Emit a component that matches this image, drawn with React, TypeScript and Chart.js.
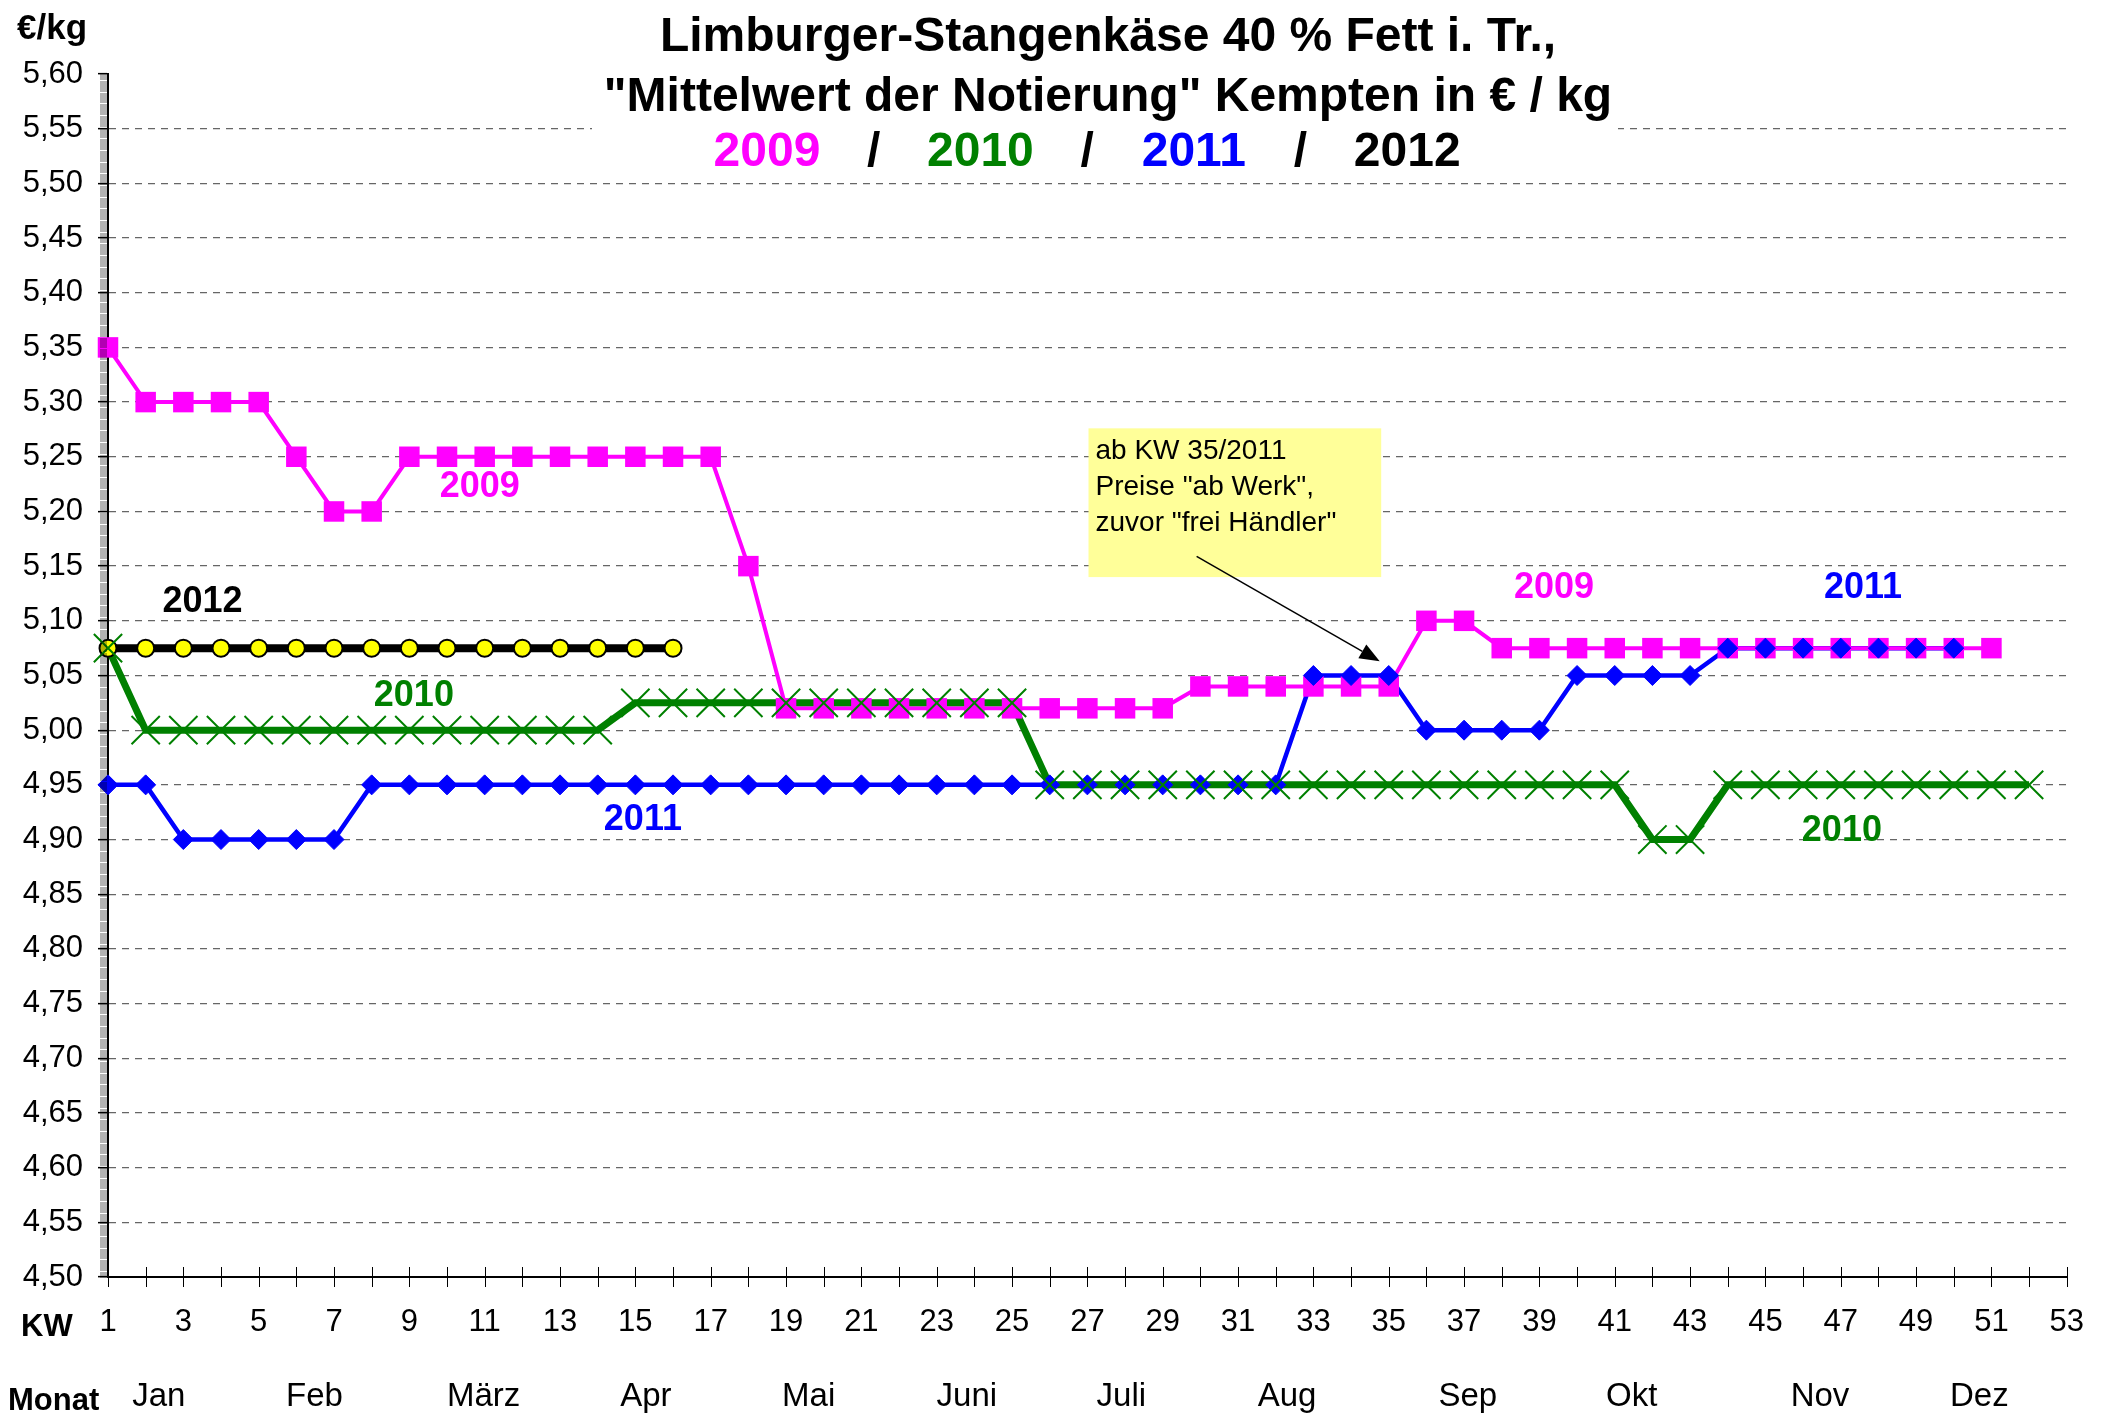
import React, { useEffect, useRef } from 'react';
import { Chart, registerables } from 'chart.js';

Chart.register(...registerables);

// ---------- data ----------
const KW = [
  1, 2, 3, 4, 5, 6, 7, 8, 9, 10, 11, 12, 13, 14, 15, 16, 17, 18, 19, 20, 21, 22, 23, 24, 25, 26,
  27, 28, 29, 30, 31, 32, 33, 34, 35, 36, 37, 38, 39, 40, 41, 42, 43, 44, 45, 46, 47, 48, 49, 50,
  51, 52, 53,
];

const Y_TICKS = [
  4.5, 4.55, 4.6, 4.65, 4.7, 4.75, 4.8, 4.85, 4.9, 4.95, 5.0, 5.05, 5.1, 5.15, 5.2, 5.25, 5.3,
  5.35, 5.4, 5.45, 5.5, 5.55, 5.6,
];

const MONTHS = ['Jan', 'Feb', 'März', 'Apr', 'Mai', 'Juni', 'Juli', 'Aug', 'Sep', 'Okt', 'Nov', 'Dez'];
const MONTH_KW = [2.35, 6.48, 10.97, 15.28, 19.6, 23.8, 27.9, 32.3, 37.1, 41.45, 46.45, 50.68];

// 2009: KW 1..51
const P2009 = [
  5.35, 5.3, 5.3, 5.3, 5.3, 5.25, 5.2, 5.2, 5.25, 5.25, 5.25, 5.25, 5.25, 5.25, 5.25, 5.25, 5.25,
  5.15, 5.02, 5.02, 5.02, 5.02, 5.02, 5.02, 5.02, 5.02, 5.02, 5.02, 5.02, 5.04, 5.04, 5.04, 5.04,
  5.04, 5.04, 5.1, 5.1, 5.075, 5.075, 5.075, 5.075, 5.075, 5.075, 5.075, 5.075, 5.075, 5.075,
  5.075, 5.075, 5.075, 5.075,
];
// 2010: KW 1..52
const P2010 = [
  5.075, 5.0, 5.0, 5.0, 5.0, 5.0, 5.0, 5.0, 5.0, 5.0, 5.0, 5.0, 5.0, 5.0, 5.025, 5.025, 5.025,
  5.025, 5.025, 5.025, 5.025, 5.025, 5.025, 5.025, 5.025, 4.95, 4.95, 4.95, 4.95, 4.95, 4.95, 4.95,
  4.95, 4.95, 4.95, 4.95, 4.95, 4.95, 4.95, 4.95, 4.95, 4.9, 4.9, 4.95, 4.95, 4.95, 4.95, 4.95,
  4.95, 4.95, 4.95, 4.95,
];
// 2011: KW 1..50
const P2011 = [
  4.95, 4.95, 4.9, 4.9, 4.9, 4.9, 4.9, 4.95, 4.95, 4.95, 4.95, 4.95, 4.95, 4.95, 4.95, 4.95, 4.95,
  4.95, 4.95, 4.95, 4.95, 4.95, 4.95, 4.95, 4.95, 4.95, 4.95, 4.95, 4.95, 4.95, 4.95, 4.95, 5.05,
  5.05, 5.05, 5.0, 5.0, 5.0, 5.0, 5.05, 5.05, 5.05, 5.05, 5.075, 5.075, 5.075, 5.075, 5.075, 5.075,
  5.075,
];
// 2012: KW 1..16
const P2012 = [
  5.075, 5.075, 5.075, 5.075, 5.075, 5.075, 5.075, 5.075, 5.075, 5.075, 5.075, 5.075, 5.075, 5.075,
  5.075, 5.075,
];

const SERIES_LABEL_TEXT = ['2009', '2009', '2012', '2010', '2010', '2011', '2011'];
const SERIES_LABEL_KW = [10.87, 39.39, 3.51, 9.12, 47.03, 15.2, 47.59];
const SERIES_LABEL_VAL = [5.222, 5.13, 5.117, 5.031, 4.908, 4.918, 5.13];

const NOTE_LINES = ['ab KW 35/2011', 'Preise "ab Werk",', 'zuvor "frei Händler"'];

const TITLE_1 = 'Limburger-Stangenkäse 40 % Fett i. Tr.,';
const TITLE_2 = '"Mittelwert der Notierung" Kempten in € / kg';
const TITLE_3 = ['2009', '/', '2010', '/', '2011', '/', '2012'];

// ---------- styles ----------
const C2009 = '#FF00FF';
const C2010 = '#008000';
const C2011 = '#0000FF';
const C2012 = '#000000';
const TITLE_3_COLORS = [C2009, '#000', C2010, '#000', C2011, '#000', C2012];
const SERIES_LABEL_COLORS = [C2009, C2009, C2012, C2010, C2010, C2011, C2011];
const FONT = '"Liberation Sans", Arial, Helvetica, sans-serif';

const NOTE_BOX = { kw0: 27.03, kw1: 34.8, v0: 5.276, v1: 5.14 };
const NOTE_ARROW = { kw0: 29.9, v0: 5.159, kw1: 34.76, v1: 5.063 };

const overlayPlugin = {
  id: 'overlay',
  beforeDatasetsDraw(chart: any) {
    const ctx = chart.ctx as CanvasRenderingContext2D;
    ctx.save();
    ctx.fillStyle = '#fff';
    ctx.fillRect(592, 0, 1026, 172);
    ctx.fillStyle = '#000';
    ctx.textAlign = 'center';
    ctx.textBaseline = 'alphabetic';
    ctx.font = `bold 48px ${FONT}`;
    ctx.fillText(TITLE_1, 1108, 51);
    ctx.fillText(TITLE_2, 1108, 111);
    ctx.font = `bold 48px ${FONT}`;
    TITLE_3.forEach((t, i) => {
      ctx.fillStyle = TITLE_3_COLORS[i];
      ctx.fillText(t, 767 + i * 106.7, 166);
    });
    ctx.restore();
  },
  afterDatasetsDraw(chart: any) {
    const ctx = chart.ctx as CanvasRenderingContext2D;
    const xs = chart.scales.x;
    const ys = chart.scales.y;
    ctx.save();
    ctx.font = `bold 36px ${FONT}`;
    ctx.textAlign = 'center';
    ctx.textBaseline = 'middle';
    SERIES_LABEL_TEXT.forEach((t, i) => {
      ctx.fillStyle = SERIES_LABEL_COLORS[i];
      ctx.fillText(t, xs.getPixelForValue(SERIES_LABEL_KW[i]), ys.getPixelForValue(SERIES_LABEL_VAL[i]));
    });
    const bx0 = xs.getPixelForValue(NOTE_BOX.kw0);
    const bx1 = xs.getPixelForValue(NOTE_BOX.kw1);
    const by0 = ys.getPixelForValue(NOTE_BOX.v0);
    const by1 = ys.getPixelForValue(NOTE_BOX.v1);
    ctx.fillStyle = '#FFFF99';
    ctx.fillRect(bx0, by0, bx1 - bx0, by1 - by0);
    ctx.fillStyle = '#000';
    ctx.font = `28px ${FONT}`;
    ctx.textAlign = 'left';
    ctx.textBaseline = 'alphabetic';
    NOTE_LINES.forEach((l, i) => ctx.fillText(l, bx0 + 7, by0 + 31 + i * 36));
    const ax0 = xs.getPixelForValue(NOTE_ARROW.kw0);
    const ay0 = ys.getPixelForValue(NOTE_ARROW.v0);
    const ax1 = xs.getPixelForValue(NOTE_ARROW.kw1);
    const ay1 = ys.getPixelForValue(NOTE_ARROW.v1);
    const ang = Math.atan2(ay1 - ay0, ax1 - ax0);
    const hl = 20;
    const hw = 8;
    ctx.strokeStyle = '#000';
    ctx.lineWidth = 1.5;
    ctx.beginPath();
    ctx.moveTo(ax0, ay0);
    ctx.lineTo(ax1 - Math.cos(ang) * hl, ay1 - Math.sin(ang) * hl);
    ctx.stroke();
    ctx.beginPath();
    ctx.moveTo(ax1, ay1);
    ctx.lineTo(
      ax1 - Math.cos(ang) * hl + Math.sin(ang) * hw,
      ay1 - Math.sin(ang) * hl - Math.cos(ang) * hw
    );
    ctx.lineTo(
      ax1 - Math.cos(ang) * hl - Math.sin(ang) * hw,
      ay1 - Math.sin(ang) * hl + Math.cos(ang) * hw
    );
    ctx.closePath();
    ctx.fill();
    ctx.restore();
  },
  afterDraw(chart: any) {
    const ctx = chart.ctx as CanvasRenderingContext2D;
    const xs = chart.scales.x;
    const ys = chart.scales.y;
    const area = chart.chartArea;
    ctx.save();
    // minor y ticks
    ctx.strokeStyle = 'rgba(0,0,0,0.3)';
    ctx.lineWidth = 1;
    ctx.beginPath();
    for (let k = 0; k <= 1100; k++) {
      const py = Math.round(ys.getPixelForValue(4.5 + k * 0.001)) + 0.5;
      ctx.moveTo(area.left - 8, py);
      ctx.lineTo(area.left - 1, py);
    }
    ctx.stroke();
    // crossing x ticks
    ctx.strokeStyle = '#000';
    ctx.lineWidth = 1;
    ctx.beginPath();
    KW.forEach((k) => {
      const px = Math.round(xs.getPixelForValue(k)) + 0.5;
      ctx.moveTo(px, area.bottom - 10);
      ctx.lineTo(px, area.bottom + 10);
    });
    ctx.stroke();
    // month labels
    ctx.fillStyle = '#000';
    ctx.font = `33px ${FONT}`;
    ctx.textAlign = 'center';
    ctx.textBaseline = 'middle';
    MONTHS.forEach((m, i) => ctx.fillText(m, xs.getPixelForValue(MONTH_KW[i]), 1397));
    ctx.font = `bold 31px ${FONT}`;
    ctx.textAlign = 'left';
    ctx.fillText('KW', 21, 1327);
    ctx.fillText('Monat', 8, 1401);
    ctx.font = `bold 35px ${FONT}`;
    ctx.textBaseline = 'alphabetic';
    ctx.fillText('€/kg', 17, 39);
    ctx.restore();
  },
};

export default function App() {
  const ref = useRef<HTMLCanvasElement>(null);

  useEffect(() => {
    const canvas = ref.current;
    if (!canvas) return;
    const pts = (vals: number[]) => vals.map((v, i) => ({ x: KW[i], y: v }));
    const lineDs = (label: string, vals: number[], color: string, width: number, order: number) => ({
      label,
      data: pts(vals),
      borderColor: color,
      backgroundColor: color,
      borderWidth: width,
      pointRadius: 0,
      pointHoverRadius: 0,
      tension: 0,
      fill: false,
      clip: false as any,
      order,
    });
    const markDs = (
      label: string,
      vals: number[],
      style: string,
      radius: number,
      bg: string,
      border: string,
      bw: number,
      order: number
    ) => ({
      label,
      data: pts(vals),
      showLine: false,
      pointStyle: style,
      pointRadius: radius,
      pointHoverRadius: radius,
      pointBackgroundColor: bg,
      pointBorderColor: border,
      pointBorderWidth: bw,
      backgroundColor: bg,
      borderColor: border,
      clip: false as any,
      order,
    });

    const chart = new Chart(canvas, {
      type: 'line',
      data: {
        datasets: [
          lineDs('2010', P2010, C2010, 7, 10),
          lineDs('2009', P2009, C2009, 4, 11),
          lineDs('2011', P2011, C2011, 4.5, 12),
          lineDs('2012', P2012, C2012, 8, 13),
          markDs('2010 m', P2010, 'crossRot', 20, C2010, C2010, 2, 0),
          markDs('2011 m', P2011, 'rectRot', 10, C2011, C2011, 1, 1),
          markDs('2009 m', P2009, 'rect', 14.5, C2009, C2009, 0, 2),
          markDs('2012 m', P2012, 'circle', 8.5, '#FFFF00', '#000', 2, 3),
        ] as any,
      },
      options: {
        animation: false,
        responsive: false,
        events: [],
        layout: { padding: { top: 74, right: 33, bottom: 0, left: 0 } },
        plugins: { legend: { display: false }, tooltip: { enabled: false }, title: { display: false } },
        scales: {
          x: {
            type: 'linear',
            min: 1,
            max: 53,
            afterFit: (s: any) => {
              s.height = 145;
            },
            afterBuildTicks: (s: any) => {
              s.ticks = KW.filter((k) => k % 2 === 1).map((k) => ({ value: k }));
            },
            ticks: {
              autoSkip: false,
              maxRotation: 0,
              minRotation: 0,
              padding: 27,
              color: '#000',
              font: { family: FONT, size: 31 },
              callback: (v: any) => String(v),
            },
            grid: { display: false, drawTicks: false },
            border: { display: true, color: '#000', width: 2 },
          },
          y: {
            type: 'linear',
            min: 4.5,
            max: 5.6,
            afterFit: (s: any) => {
              s.width = 108;
            },
            afterBuildTicks: (s: any) => {
              s.ticks = Y_TICKS.map((v) => ({ value: v }));
            },
            ticks: {
              padding: 15,
              color: '#000',
              font: { family: FONT, size: 31 },
              callback: (v: any) => Number(v).toFixed(2).replace('.', ','),
            },
            grid: {
              display: true,
              drawTicks: true,
              tickLength: 10,
              tickWidth: 1.5,
              tickColor: '#000',
              lineWidth: 1.3,
              color: (c: any) => {
                const v = c.tick ? c.tick.value : 0;
                return Math.abs(v - 5.6) < 1e-6 || Math.abs(v - 4.5) < 1e-6 ? 'rgba(0,0,0,0)' : '#666';
              },
            },
            border: { display: true, color: '#000', width: 2, dash: [7, 6] },
          },
        },
      } as any,
      plugins: [overlayPlugin],
    });
    return () => chart.destroy();
  }, []);

  return (
    <div style={{ position: 'absolute', left: 0, top: 0, width: 2111, height: 1422, background: '#fff' }}>
      <canvas ref={ref} width={2111} height={1422} style={{ display: 'block' }} />
    </div>
  );
}
